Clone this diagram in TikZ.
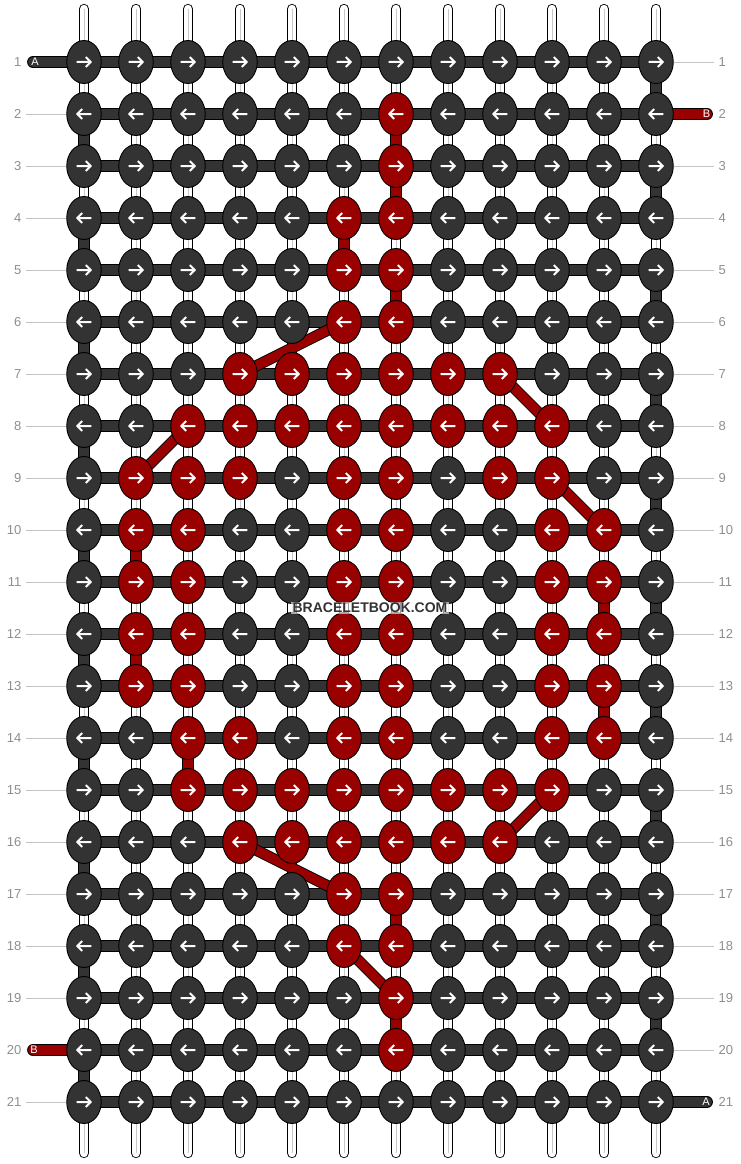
\documentclass[tikz,border=0pt]{standalone}
\usepackage{fontspec}
\setmainfont{Liberation Sans}
\usetikzlibrary{shapes.geometric}
\pgfdeclarelayer{strings}
\pgfdeclarelayer{bars}
\pgfdeclarelayer{links}
\pgfsetlayers{strings,bars,links,main}
\definecolor{kdark}{HTML}{333333}
\definecolor{kred}{HTML}{990000}
\definecolor{numgrey}{HTML}{8E8E8E}
\definecolor{leadgrey}{HTML}{C4C4C4}
\definecolor{coregrey}{HTML}{C8C8C8}
\begin{document}
\begin{tikzpicture}[x=1pt,y=-1pt,
  knotbase/.style={ellipse, minimum width=34.5pt, minimum height=43pt, inner sep=0pt, draw=black, line width=0.9pt},
  darkknot/.style={knotbase, fill=kdark},
  redknot/.style={knotbase, fill=kred},
  arrowline/.style={draw=white, line width=2pt, line join=miter},
  tubebase/.style={draw=black, line width=0.9pt, double distance=10pt},
  darkbar/.style={tubebase, double=kdark},
  redbar/.style={tubebase, double=kred},
  diaglink/.style={draw=black, line width=0.9pt, double=kred, double distance=9.5pt},
  stringtube/.style={draw=black, line width=0.9pt, double=white, double distance=8.5pt, line cap=round},
  stringcore/.style={draw=coregrey, line width=0.7pt},
  tabdark/.style={darkbar, line cap=round},
  tabred/.style={redbar, line cap=round},
  tablabel/.style={text=white, font=\fontsize{11}{11}\selectfont, inner sep=0pt},
  numlab/.style={text=numgrey, font=\fontsize{13}{13}\selectfont, inner sep=0pt},
  leader/.style={draw=leadgrey, line width=0.9pt},
  watermark/.style={text=kdark, font=\bfseries\fontsize{14}{14}\selectfont, fill=white, fill opacity=0.6, text opacity=1, inner sep=1.5pt}
]
\path[use as bounding box] (0,0) rectangle (740,1164);

% which knots are red
\foreach \r/\cs in {2/{7},3/{7},4/{6,7},5/{6,7},6/{6,7},7/{4,5,6,7,8,9},8/{3,4,5,6,7,8,9,10},
  9/{2,3,4,6,7,9,10},10/{2,3,6,7,10,11},11/{2,3,6,7,10,11},12/{2,3,6,7,10,11},13/{2,3,6,7,10,11},
  14/{3,4,6,7,10,11},15/{3,4,5,6,7,8,9,10},16/{4,5,6,7,8,9},17/{6,7},18/{6,7},19/{7},20/{7}}{
  \foreach \c in \cs {\expandafter\xdef\csname isred-\r-\c\endcsname{1}}
}

% knots with direction arrows
\foreach \r in {1,...,21}{
  \foreach \c in {1,...,12}{
    \ifcsname isred-\r-\c\endcsname\def\kst{redknot}\else\def\kst{darkknot}\fi
    \node[\kst] (k-\r-\c) at ({84+52*(\c-1)},{62+52*(\r-1)}) {};
    \ifodd\r\relax\def\ax{1}\else\def\ax{-1}\fi
    \draw[arrowline, shift={(k-\r-\c.center)}, xscale=\ax] (-7.3,0) -- (6.2,0) (1.8,-5) -- (6.6,0) -- (1.8,5);
  }
}

% vertical base strings
\begin{pgfonlayer}{strings}
\foreach \c in {1,...,12}{
  \coordinate (st-top-\c) at ({84+52*(\c-1)},9);
  \coordinate (st-bot-\c) at ({84+52*(\c-1)},1153);
  \draw[stringtube] (st-top-\c) -- (st-bot-\c);
  \draw[stringcore] (st-top-\c) -- (st-bot-\c);
}
\end{pgfonlayer}

% horizontal working threads, edge turns and end tabs
\begin{pgfonlayer}{bars}
\foreach \r in {1,...,21}{
  \foreach \c [evaluate=\c as \cn using int(\c+1)] in {1,...,11}{
    \draw[darkbar] (k-\r-\c.center) -- (k-\r-\cn.center);
  }
}
\foreach \r [evaluate=\r as \rn using int(\r+1)] in {1,...,20}{
  \ifodd\r\relax
    \draw[darkbar] (k-\r-12.center) -- (k-\rn-12.center);
  \else
    \draw[darkbar] (k-\r-1.center) -- (k-\rn-1.center);
  \fi
}
\coordinate (tab-A-in) at (33,62);
\coordinate (tab-B-in) at (707,114);
\coordinate (tab-B-out) at (33,1050);
\coordinate (tab-A-out) at (707,1102);
\draw[tabdark] (tab-A-in) -- (k-1-1.center);
\draw[tabred] (k-2-12.center) -- (tab-B-in);
\draw[tabred] (tab-B-out) -- (k-20-1.center);
\draw[tabdark] (k-21-12.center) -- (tab-A-out);
\end{pgfonlayer}

% red thread links
\begin{pgfonlayer}{links}
\foreach \ra/\ca/\rb/\cb in {2/7/3/7,3/7/4/7,4/6/5/6,5/7/6/7,10/2/11/2,11/11/12/11,12/2/13/2,13/11/14/11,14/3/15/3,17/7/18/7,19/7/20/7}{
  \draw[redbar] (k-\ra-\ca.center) -- (k-\rb-\cb.center);
}
\foreach \ra/\ca/\rb/\cb in {6/6/7/4,7/9/8/10,8/3/9/2,9/10/10/11,15/10/16/9,16/4/17/6,18/6/19/7}{
  \draw[diaglink] (k-\ra-\ca.center) -- (k-\rb-\cb.center);
}
\end{pgfonlayer}

% tab labels
\node[tablabel] (lab-A-in) at (35,62) {A};
\node[tablabel] (lab-B-in) at (706.5,114) {B};
\node[tablabel] (lab-B-out) at (34,1050) {B};
\node[tablabel] (lab-A-out) at (706,1102) {A};

% row numbers and leaders
\foreach \r in {1,...,21}{
  \node[numlab, anchor=east] (nl-\r) at (21.5,{62+52*(\r-1)}) {\r};
  \node[numlab, anchor=west] (nr-\r) at (718.5,{62+52*(\r-1)}) {\r};
}
\foreach \r in {2,...,19,21}{
  \draw[leader, shorten <=4.5pt] (nl-\r.east) -- (k-\r-1.west);
}
\foreach \r in {1,3,4,...,20}{
  \draw[leader, shorten >=5pt] (k-\r-12.east) -- (nr-\r.west);
}

% watermark
\node[watermark] (wm) at (370,608) {BRACELETBOOK.COM};
\end{tikzpicture}
\end{document}
